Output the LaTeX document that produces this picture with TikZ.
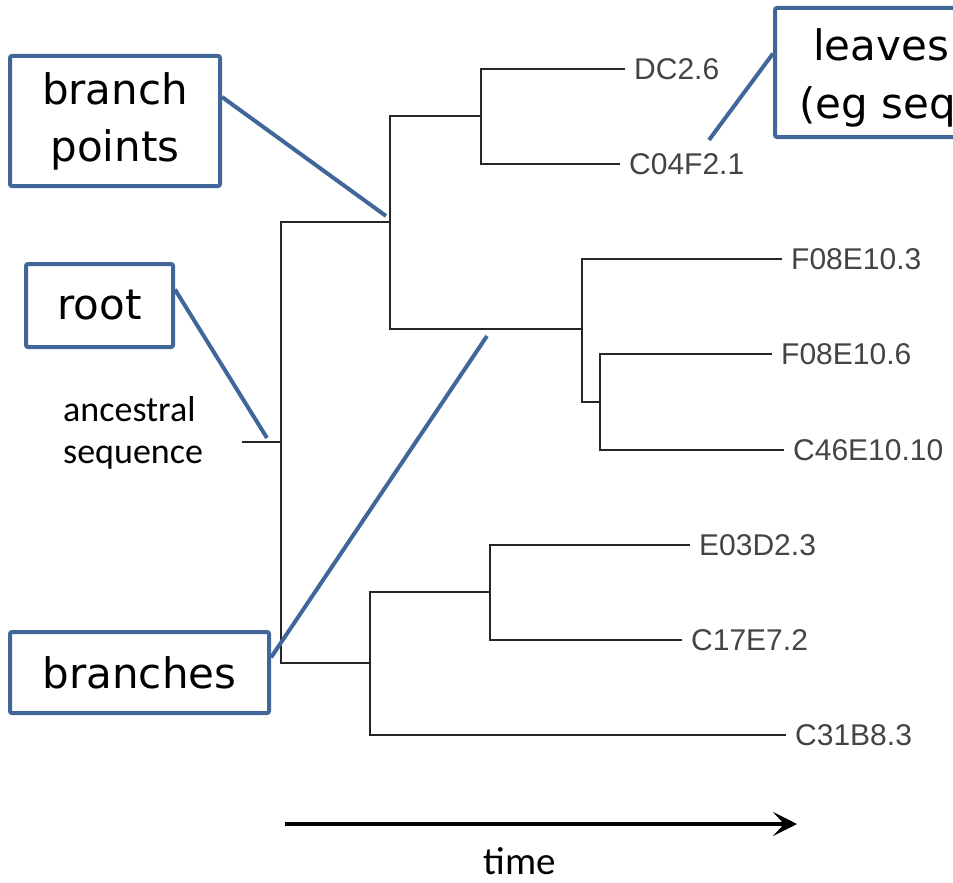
\documentclass[tikz,border=0pt]{standalone}
\usepackage{fontspec}
\setmainfont{Carlito}
\newfontfamily\leaffont{Liberation Sans}
\newfontfamily\callfont{DejaVu Sans}
\usetikzlibrary{arrows.meta,calc}
\definecolor{callblue}{HTML}{41669A}
\definecolor{treeline}{HTML}{262626}
\definecolor{leafgray}{HTML}{444444}
\tikzset{
  treeedge/.style={draw=treeline, line width=1.8pt},
  leaf/.style={anchor=west, inner xsep=9pt, inner ysep=0pt, font=\leaffont\fontsize{30}{30}\selectfont,
    text=leafgray, text height=21.5pt, text depth=0pt},
  callbox/.style={draw=callblue, line width=4pt, rounded corners=2pt, fill=white,
    font=\callfont\fontsize{42}{57}\selectfont, align=center, inner sep=0pt},
  leader/.style={draw=callblue, line width=4pt},
  plain/.style={font=\fontsize{36}{42}\selectfont, inner sep=0pt}
}
\begin{document}
\begin{tikzpicture}[x=1pt,y=-1pt]
\useasboundingbox (0,0) rectangle (953,883);
\clip (0,0) rectangle (953,883);
% junction coordinates
\coordinate (rs) at (242,442);
\coordinate (R) at (281,442);
\coordinate (A) at (390,222);
\coordinate (B) at (370,663);
\coordinate (C) at (481,116);
\coordinate (D) at (582,329);
\coordinate (E) at (600,402);
\coordinate (F) at (490,592);
% leaves
\node[leaf] (l1) at (625,69) {DC2.6};
\node[leaf] (l2) at (620,164) {C04F2.1};
\node[leaf] (l3) at (782,259) {F08E10.3};
\node[leaf] (l4) at (772,354) {F08E10.6};
\node[leaf] (l5) at (784,450) {C46E10.10};
\node[leaf] (l6) at (690,545) {E03D2.3};
\node[leaf] (l7) at (682,640) {C17E7.2};
\node[leaf] (l8) at (786,735) {C31B8.3};
% tree edges
\path[treeedge] (rs) -- (R);
\path[treeedge] (A) -| (R) |- (B);
\path[treeedge] (C) -| (A) |- (D);
\path[treeedge] (l1.west) -| (C) |- (l2.west);
\path[treeedge] (l3.west) -| (D) |- (E);
\path[treeedge] (l4.west) -| (E) |- (l5.west);
\path[treeedge] (F) -| (B) |- (l8.west);
\path[treeedge] (l6.west) -| (F) |- (l7.west);
% callout boxes
\node[callbox, minimum width=210pt, minimum height=130pt] (bp) at (115,121) {branch\\points};
\node[callbox, minimum width=147pt, minimum height=83pt] (rt) at (99.5,305.5) {root};
\node[callbox, minimum width=259pt, minimum height=81pt] (br) at (139.5,672.5) {branches};
\node[callbox, minimum width=300pt, minimum height=129pt, anchor=west] (lv) at (773,72.5) {};
\node[font=\callfont\fontsize{42}{57}\selectfont, anchor=base west, inner sep=0pt] (lvt1) at (813,60) {leaves};
\node[font=\callfont\fontsize{42}{57}\selectfont, anchor=base west, inner sep=0pt] (lvt2) at (799,118) {(eg seq};
% leader ends
\coordinate (bpEnd) at (386,216);
\coordinate (rtEnd) at (267,438);
\coordinate (brEnd) at (487,336);
\coordinate (lvEnd) at (709,140);
\draw[leader] ($(bp.east)+(0,-24)$) -- (bpEnd);
\draw[leader] ($(rt.east)+(0,-16)$) -- (rtEnd);
\draw[leader] ($(br.east)+(0,-15)$) -- (brEnd);
\draw[leader] ($(lv.west)+(0,-19)$) -- (lvEnd);
% ancestral sequence
\node[plain, anchor=base west] (anc1) at (63,421) {ancestral};
\node[plain, anchor=base west] (anc2) at (63,463) {sequence};
% time arrow
\coordinate (ta) at (285,824);
\coordinate (tb) at (797,824);
\draw[line width=4pt, -{Stealth[length=24pt,width=24pt,inset=11pt]}] (ta) -- (tb);
\node[plain, font=\fontsize{39}{42}\selectfont, anchor=base] (tm) at (520,874) {time};
\end{tikzpicture}
\end{document}
